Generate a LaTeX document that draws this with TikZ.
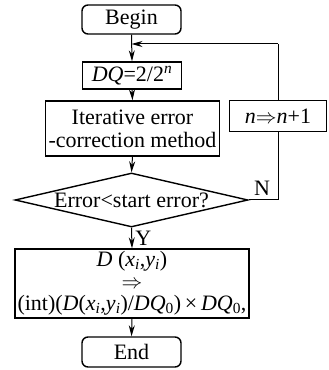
\documentclass[tikz,border=0pt]{standalone}
\usepackage{fontspec}
\setmainfont{Liberation Serif}
\usetikzlibrary{arrows.meta,shapes.geometric}
\newcommand\mysub[1]{\textsubscript{#1}}
\begin{document}
\begin{tikzpicture}[x=1pt,y=1pt,
  font=\fontsize{22}{23}\selectfont,
  box/.style={draw, line width=1.4pt, inner sep=0pt, align=center},
  term/.style={box, rounded corners=6pt},
  conn/.style={line width=1pt, -{Stealth[length=11pt,width=6pt]}},
  line/.style={line width=1pt}]
\useasboundingbox (0,0) rectangle (329,370);
\node[term, minimum width=99pt, minimum height=29pt] (begin) at (131.5,350.5) {Begin};
\node[box, minimum width=99pt, minimum height=27pt] (dq) at (132,294.5) {\textit{DQ}=2/2\textsuperscript{\textit{n}}};
\node[box, minimum width=174pt, minimum height=55pt] (iter) at (132.5,241.5) {Iterative error\\-correction method};
\node[box, minimum width=97pt, minimum height=31pt] (inc) at (278,254) {\textit{n}$\Rightarrow$\textit{n}+1};
\node[diamond, draw, line width=1.4pt, inner sep=0pt, minimum width=233pt, minimum height=54pt, aspect=4.31] (dec) at (131.5,170) {};
\node (dectext) at (131.5,170) {Error<start error?};
\node[box, minimum width=234pt, minimum height=69pt, font=\fontsize{22}{22}\selectfont] (res) at (132,86.5)
  {\textit{D} (\textit{x}\mysub{\textit{i}},\textit{y}\mysub{\textit{i}})\\ $\Rightarrow$\\
   (int)(\textit{D}(\textit{x}\mysub{\textit{i}},\textit{y}\mysub{\textit{i}})/\textit{DQ}\mysub{0})\,×\,\textit{DQ}\mysub{0},};
\node[term, minimum width=99pt, minimum height=30pt] (end) at (131.5,18) {End};
\coordinate (loopR) at (inc.north |- 0,326);
\coordinate (loopL) at (begin.south |- 0,326);
\coordinate (nR) at (inc.south |- dec.east);
\draw[conn] (begin.south) -- (dq.north);
\draw[conn] (dq.south) -- (iter.north);
\draw[conn] (iter.south) -- (dec.north);
\draw[conn] (dec.south) -- node[right, inner sep=3pt] {Y} (res.north);
\draw[conn] (res.south) -- (end.north);
\draw[line] (dec.east) -- (nR) -- (inc.south);
\draw[line] (inc.north) -- (loopR);
\draw[conn] (loopR) -- (loopL);
\node (nlabel) at (262,182) {N};
\end{tikzpicture}
\end{document}
